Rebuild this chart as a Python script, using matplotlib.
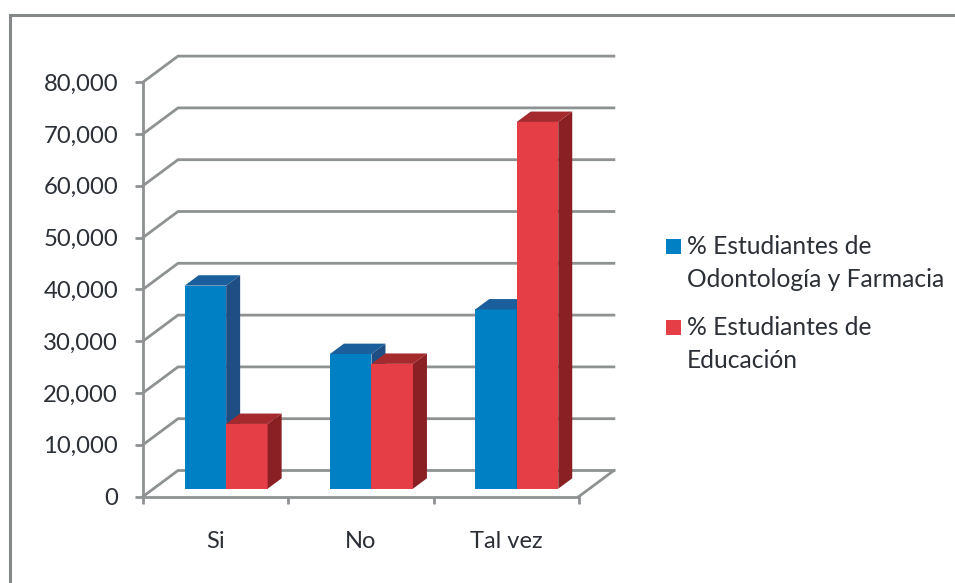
import matplotlib
matplotlib.use('Agg')
import matplotlib.pyplot as plt
from matplotlib.patches import Polygon, Rectangle

categories = ['Si', 'No', 'Tal vez']
odontologia = [39.2, 26.0, 34.6]
educacion = [12.5, 24.1, 70.8]
y_ticks = [0, 10, 20, 30, 40, 50, 60, 70, 80]
y_labels = ['0', '10,000', '20,000', '30,000', '40,000', '50,000', '60,000', '70,000', '80,000']
legend_labels = ['% Estudiantes de\nOdontología y Farmacia', '% Estudiantes de\nEducación']

W, H = 955, 583
GRID = '#8e9292'
TEXT = '#2b2f36'
BLUE = ('#0080c4', '#1a5f9b', '#1f4e84')   # front, top, side
RED = ('#e53e46', '#a52a2e', '#8a2024')

# depth of the fake 3d box, in data units
depth_x = 35 / 145.3
depth_y = 26 / 51.8
bar_w = 41.5 / 145.3

plt.rcParams['font.family'] = ['Lato', 'DejaVu Sans']
fig = plt.figure(figsize=(W / 100, H / 100), dpi=100)

# frame around the chart, open on the right and at the bottom
fig.add_artist(plt.Line2D([10 / W, 10 / W, 1], [0, 1 - 14.5 / H, 1 - 14.5 / H],
                          color='#858888', lw=2.2, solid_joinstyle='miter'))

ax_right = 143 + 145.3 * (3 + depth_x)
ax_top = 496.5 - 51.8 * (8 + depth_y)
ax = fig.add_axes([143 / W, 1 - 496.5 / H, (ax_right - 143) / W, (496.5 - ax_top) / H])
ax.set_xlim(0, 3 + depth_x)
ax.set_ylim(0, 8 * 10 + depth_y * 10)
ax.patch.set_visible(False)

# side wall and back wall lines
for v in y_ticks:
    ax.plot([0, depth_x, 3 + depth_x], [v, v + depth_y * 10, v + depth_y * 10],
            color=GRID, lw=2, zorder=1, clip_on=False, solid_joinstyle='miter')
ax.plot([3, 3 + depth_x], [0, depth_y * 10], color=GRID, lw=2, zorder=1, clip_on=False)


def draw_bar(x0, value, colors):
    front_x = x0 + 0.3 * depth_x
    base = 0.3 * depth_y * 10
    dx = 0.4 * depth_x
    dy = 0.4 * depth_y * 10
    ax.bar(front_x, value, bar_w, bottom=base, align='edge', color=colors[0], zorder=3)
    top = base + value
    right = front_x + bar_w
    ax.add_patch(Polygon([(front_x, top), (front_x + dx, top + dy), (right + dx, top + dy), (right, top)],
                         facecolor=colors[1], edgecolor='none', zorder=3))
    ax.add_patch(Polygon([(right, base), (right + dx, base + dy), (right + dx, top + dy), (right, top)],
                         facecolor=colors[2], edgecolor='none', zorder=3))


for i in range(len(categories)):
    start = i + 0.5 - bar_w
    # blue goes down first, the red bar sits in front of its side face
    draw_bar(start, odontologia[i], BLUE)
    draw_bar(start + bar_w, educacion[i], RED)

for side in ['top', 'right']:
    ax.spines[side].set_visible(False)
ax.spines['left'].set_bounds(0, 80)
ax.spines['bottom'].set_bounds(0, 3)
for side in ['left', 'bottom']:
    ax.spines[side].set_color(GRID)
    ax.spines[side].set_linewidth(2)
    ax.spines[side].set_zorder(2)

ax.set_yticks(y_ticks)
ax.set_yticklabels(y_labels, fontsize=17.2, color=TEXT)
ax.tick_params(axis='y', length=6, width=2, color=GRID, pad=12)

ax.set_xticks([0, 1, 2, 3])
ax.set_xticklabels([''] * 4)
ax.tick_params(axis='x', length=5, width=2, color=GRID)
for i, c in enumerate(categories):
    ax.annotate(c, (i + 0.5, 0), xytext=(0, -44.5), textcoords='offset pixels', ha='center', va='center',
                fontsize=17, color=TEXT, annotation_clip=False)

# legend
for (y_px, color, label) in zip([239, 320], [BLUE[0], RED[0]], legend_labels):
    fig.add_artist(Rectangle((666 / W, 1 - (y_px + 15) / H), 15 / W, 15 / H,
                             transform=fig.transFigure, facecolor=color, edgecolor='none'))
    fig.text(687 / W, 1 - (y_px + 24) / H, label, fontsize=17.7, color=TEXT, ha='left', va='center', linespacing=1.52)

fig.savefig('out.png', dpi=100)
